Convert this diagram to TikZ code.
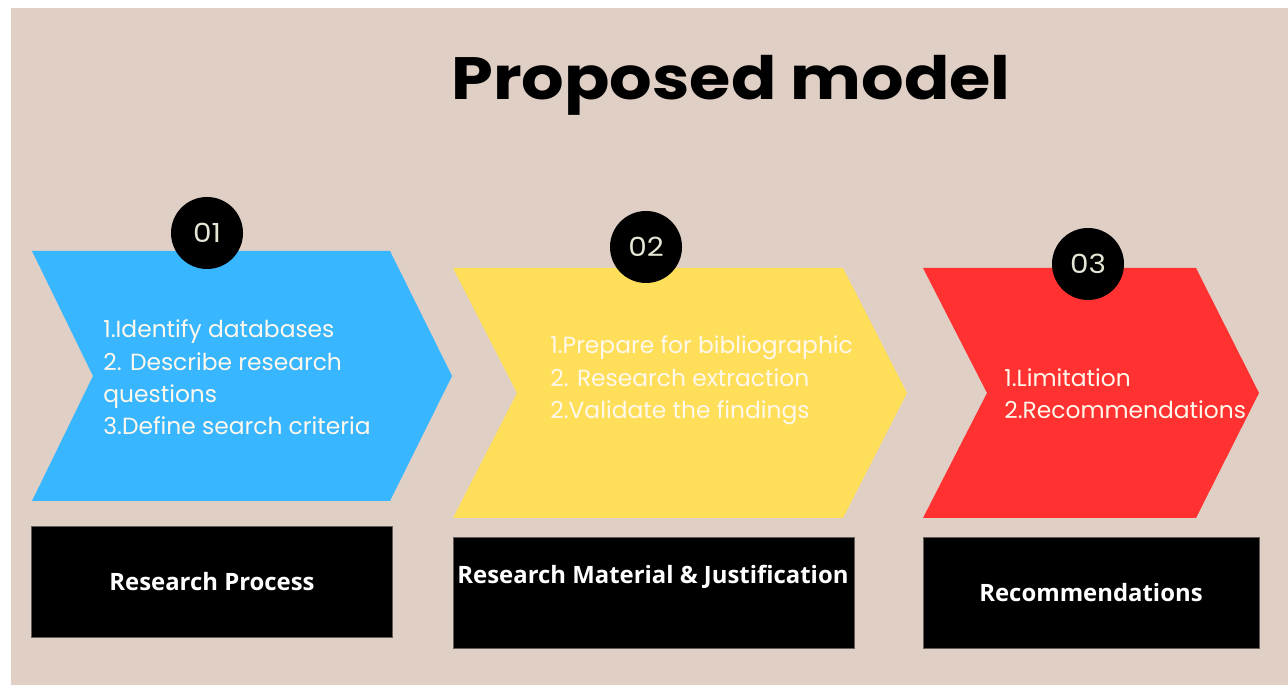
\documentclass[tikz,border=0pt]{standalone}
\usepackage{fontspec}
\setmainfont{Poppins}
\newfontfamily\titlefont{Poppins}[FakeStretch=1.12]
\newfontfamily\boxfont{Open Sans}
\definecolor{bgbeige}{HTML}{DFCFC5}
\definecolor{stepblue}{HTML}{38B6FF}
\definecolor{stepyellow}{HTML}{FFDE59}
\definecolor{stepred}{HTML}{FF3131}
\definecolor{cream}{HTML}{FFF8EC}
\definecolor{numcream}{HTML}{E6E6D6}
\tikzset{
  itemtext/.style={anchor=base west, inner sep=0pt, text=cream, font=\fontsize{13.3}{16}\selectfont},
  numdot/.style={circle, fill=black, minimum size=72*0.02cm, inner sep=0pt, text=numcream, font=\titlefont\fontsize{15}{18}\selectfont},
  labelbox/.style={fill=black, draw=black!55!bgbeige, line width=0.4pt},
  labeltext/.style={text=white, inner sep=0pt, font=\boxfont\bfseries\fontsize{13.6}{16}\selectfont}
}
\begin{document}
\begin{tikzpicture}[x=0.02cm, y=-0.02cm]
      \useasboundingbox (0,0) rectangle (1288,685);
      \fill[white] (0,0) rectangle (1288,685);
      \fill[bgbeige] (11,8) rectangle (1288,685);
      % title
      \node[font=\titlefont\bfseries\fontsize{34}{38}\selectfont, inner sep=0pt, anchor=base] (title) at (731,100) {Proposed model};
      % arrows
      \fill[stepblue] (32,251) -- (390,251) -- (452,376) -- (390,501) -- (32,501) -- (93,376) -- cycle;
      \fill[stepyellow] (453,268) -- (843,268) -- (907,393) -- (843,518) -- (453,518) -- (517,393) -- cycle;
      \fill[stepred] (923,268) -- (1196,268) -- (1259,393) -- (1196,518) -- (923,518) -- (987,393) -- cycle;
      % numbers
      \node[numdot] (n1) at (207,233) {01};
      \node[numdot] (n2) at (646,247) {02};
      \node[numdot] (n3) at (1088,264) {03};
      % step 1
      \node[itemtext] (a1) at (103,338) {1.Identify databases};
      \node[itemtext] (a2) at (103,371) {2. Describe research};
      \node[itemtext] (a3) at (103,403) {questions};
      \node[itemtext] (a4) at (103,435) {3.Define search criteria};
      % step 2
      \node[itemtext] (b1) at (550,354) {1.Prepare for bibliographic};
      \node[itemtext] (b2) at (550,387) {2. Research extraction};
      \node[itemtext] (b3) at (550,419) {2.Validate the findings};
      % step 3
      \node[itemtext] (c1) at (1004,387) {1.Limitation};
      \node[itemtext] (c2) at (1004,419) {2.Recommendations};
      % boxes
      \draw[labelbox] (31,526) rectangle (392,637);
      \draw[labelbox] (453,537) rectangle (854,648);
      \draw[labelbox] (923,537) rectangle (1259,648);
      \node[labeltext] (p1) at (212,582) {Research Process};
      \node[labeltext] (p2) at (653,577) {Research Material \& Justification};
      \node[labeltext] (p3) at (1091,593) {Recommendations};
\end{tikzpicture}
\end{document}
